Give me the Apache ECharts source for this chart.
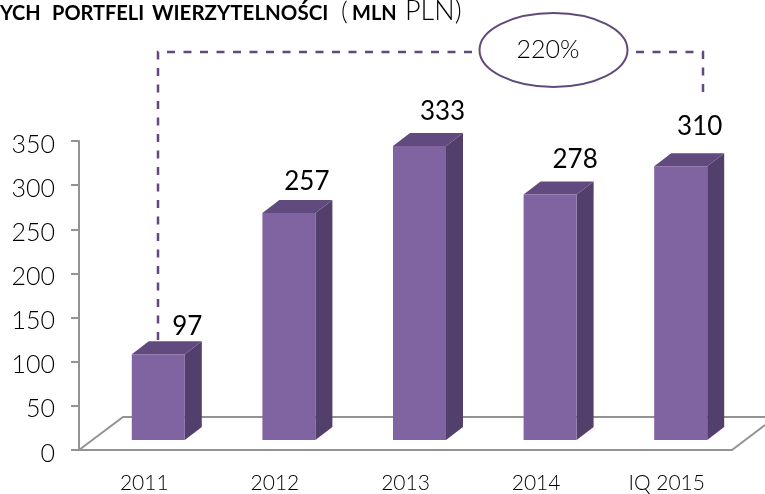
<!DOCTYPE html>
<html>
<head>
<meta charset="utf-8">
<style>html,body{margin:0;padding:0;background:#fff}#c{width:765px;height:494px}</style>
<script src="https://cdn.jsdelivr.net/npm/echarts@6/dist/echarts.min.js"></script>
</head>
<body>
<div id="c"></div>
<script>
const categories = ['2011', '2012', '2013', '2014', 'IQ 2015'];
const values = [97, 257, 333, 278, 310];
const valueTicks = [0, 350, 50];
const growthLabel = '220%';
// manual label nudges from the bar's top, as in the reference
const labelDx = [29, 18, 23, 25, 19];
const labelDy = [-28, -31, -34, -35, -40];

const FONT = 'Lato';
const axisGrey = '#939393';
const front = '#8063A1', side = '#533F6C', topFace = '#614A7E', dash = '#604A7B';
const floorDx = 14, floorDy = -10, depthX = 17, depthY = -13, barW = 53;

const chart = echarts.init(document.getElementById('c'), null, {renderer: 'canvas'});

function titleText(text, x, size, weight) {
  return {type: 'text', x: x, y: 20 - 0.34 * size, style: {text: text, fill: '#000', font: weight + ' ' + size + 'px ' + FONT, verticalAlign: 'middle'}};
}

chart.setOption({
  animation: false,
  grid: {left: 79, top: 141, width: 653, height: 309, containLabel: false},
  xAxis: {
    type: 'category', data: categories,
    axisLine: {lineStyle: {color: axisGrey, width: 2}},
    axisTick: {length: 8, lineStyle: {color: axisGrey, width: 2}},
    axisLabel: {color: '#000', fontFamily: FONT, fontWeight: 300, fontSize: 21, margin: 23}
  },
  yAxis: {
    type: 'value', min: valueTicks[0], max: valueTicks[1], interval: valueTicks[2],
    splitLine: {show: false},
    axisLine: {show: true, lineStyle: {color: axisGrey, width: 2}},
    axisTick: {show: true, length: 8, lineStyle: {color: axisGrey, width: 2}},
    axisLabel: {color: '#000', fontFamily: FONT, fontWeight: 300, fontSize: 25, margin: 24, verticalAlign: 'top', lineHeight: 7}
  },
  graphic: [
    {type: 'polyline', z: 0, shape: {points: [[79, 450], [123, 417], [765, 417]]}, style: {stroke: axisGrey, lineWidth: 2, fill: null}},
    {type: 'line', z: 0, shape: {x1: 732, y1: 450, x2: 765, y2: 425}, style: {stroke: axisGrey, lineWidth: 2}},
    {type: 'polyline', z: 20, shape: {points: [[158, 340], [158, 52], [479, 52]]}, style: {stroke: dash, lineWidth: 2.5, fill: null, lineDash: [8, 8.5]}},
    {type: 'polyline', z: 20, shape: {points: [[636, 52], [703, 52], [703, 98]]}, style: {stroke: dash, lineWidth: 2.5, fill: null, lineDash: [8, 8.5]}},
    {type: 'ellipse', z: 20, shape: {cx: 553.5, cy: 50, rx: 74, ry: 37}, style: {stroke: dash, lineWidth: 2, fill: '#fff'}},
    {type: 'text', z: 21, x: 548, y: 50, style: {text: growthLabel, fill: '#000', font: '300 25px ' + FONT, align: 'center', verticalAlign: 'middle'}},
    titleText('YCH', 0, 20, 'bold'),
    titleText('PORTFELI', 52, 20, 'bold'),
    titleText('WIERZYTELNOŚCI', 152, 20.5, 'bold'),
    titleText('(', 341, 26, '300'),
    titleText('MLN', 352, 20, 'bold'),
    titleText('PLN)', 405, 27, '300')
  ],
  series: [{
    type: 'custom', z: 10, clip: false,
    data: categories.map((c, i) => [i, values[i]]),
    encode: {x: 0, y: 1},
    renderItem: function (params, api) {
      const i = api.value(0);
      const b = api.coord([i, 0]);
      const t = api.coord([i, api.value(1)]);
      const x0 = b[0] + floorDx - barW / 2, x1 = x0 + barW;
      const yB = b[1] + floorDy, yT = t[1] + floorDy;
      return {type: 'group', children: [
        {type: 'polygon', shape: {points: [[x1, yT], [x1 + depthX, yT + depthY], [x1 + depthX, yB + depthY], [x1, yB]]}, style: {fill: side}},
        {type: 'polygon', shape: {points: [[x0, yT], [x0 + depthX, yT + depthY], [x1 + depthX, yT + depthY], [x1, yT]]}, style: {fill: topFace}},
        {type: 'rect', shape: {x: x0, y: yT, width: barW, height: yB - yT}, style: {fill: front}},
        {type: 'text', x: (x0 + x1) / 2 + labelDx[i], y: yT + labelDy[i], style: {text: String(values[i]), fill: '#000', font: '26px ' + FONT, align: 'center', verticalAlign: 'middle'}}
      ]};
    }
  }]
});
</script>
</body>
</html>
